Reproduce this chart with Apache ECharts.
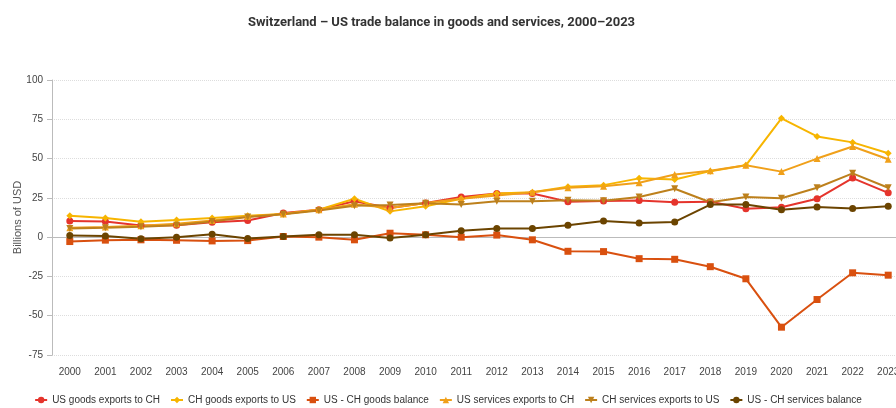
<!DOCTYPE html>
<html>
<head>
<meta charset="utf-8">
<script src="https://cdn.jsdelivr.net/npm/echarts@6/dist/echarts.min.js"></script>
<style>
  html, body { margin: 0; padding: 0; background: #fff; }
  #chart { width: 896px; height: 408px; }
</style>
</head>
<body>
<div id="chart"></div>
<script>
var years = ['2000', '2001', '2002', '2003', '2004', '2005', '2006', '2007', '2008', '2009', '2010', '2011',
    '2012', '2013', '2014', '2015', '2016', '2017', '2018', '2019', '2020', '2021', '2022', '2023'];

var usGoodsExports = [10.2, 10, 7.4, 7.6, 9.4, 10.6, 15.3, 17.5, 22.8, 18.6, 21.8, 25.6,
    27.8, 27.8, 22.6, 23, 23.3, 22.2, 22.6, 18.1, 19, 24.4, 37.6, 28.2];
var chGoodsExports = [13.6, 12.2, 9.8, 10.9, 12.2, 13.6, 14.7, 17.5, 24.4, 16.4, 19.6, 24.4,
    27.8, 28.6, 32, 33.1, 37.4, 36.7, 42, 45.7, 75.6, 64.1, 60.3, 53.4];
var goodsBalance = [-2.8, -1.9, -1.7, -2, -2.4, -2.2, 0.4, 0, -1.7, 2.5, 1.5, 0,
    1.3, -1.7, -9, -9.2, -13.7, -14.1, -18.8, -26.5, -57.3, -39.7, -22.7, -24.2];
var usServicesExports = [6, 6.5, 7.2, 8.5, 10.6, 13.2, 14.7, 17.5, 21, 18.5, 21.8, 24.4,
    26.5, 28.6, 31.4, 32.4, 34.6, 39.9, 42.3, 45.7, 41.7, 50, 57.7, 49.6];
var chServicesExports = [5.5, 6, 6.6, 7.6, 10, 12.8, 14.5, 17, 20, 20.5, 21.5, 20.7,
    22.8, 22.8, 23.5, 23.1, 25.6, 30.8, 22.2, 25.6, 24.7, 31.4, 40.6, 31.4];
var servicesBalance = [1, 0.8, -1.1, 0, 1.9, -0.9, 0.4, 1.5, 1.5, -0.6, 1.5, 4,
    5.5, 5.5, 7.6, 10.2, 9, 9.7, 20.7, 20.7, 17.5, 19.2, 18.3, 19.6];

var chart = echarts.init(document.getElementById('chart'));

function line(name, data, color, symbol, rotate) {
    return {
        name: name,
        type: 'line',
        data: data,
        symbol: symbol,
        symbolSize: 7,
        symbolRotate: rotate || 0,
        lineStyle: { width: 2, color: color },
        itemStyle: { color: color },
        emphasis: { disabled: true }
    };
}

var option = {
    animation: false,
    title: {
        text: 'Switzerland – US trade balance in goods and services, 2000–2023',
        left: 243,
        top: 11,
        textStyle: { fontFamily: 'Roboto', fontSize: 13, fontWeight: 'bold', color: '#333' }
    },
    legend: {
        top: 390,
        left: 'center',
        width: 896,
        itemWidth: 12,
        itemHeight: 8,
        itemGap: 10,
        textStyle: { fontFamily: 'Liberation Sans', fontSize: 10, color: '#333' }
    },
    grid: {
        left: 52,
        right: -10,
        top: 80,
        bottom: 53,
        outerBoundsMode: 'none'
    },
    xAxis: {
        type: 'category',
        data: years,
        boundaryGap: true,
        axisLine: { lineStyle: { color: '#bbb' } },
        axisTick: { show: false },
        axisLabel: { fontFamily: 'Liberation Sans', fontSize: 10, color: '#444', margin: 12 }
    },
    yAxis: {
        type: 'value',
        min: -75,
        max: 100,
        interval: 25,
        name: 'Billions of USD',
        nameLocation: 'middle',
        nameGap: 29,
        nameMoveOverlap: false,
        nameTextStyle: { fontFamily: 'Liberation Sans', fontSize: 11, color: '#555' },
        axisLine: { show: true, lineStyle: { color: '#bbb' } },
        axisTick: { show: true, length: 5, lineStyle: { color: '#bbb' } },
        axisLabel: { fontFamily: 'Liberation Sans', fontSize: 10, color: '#444', margin: 9 },
        splitLine: { lineStyle: { color: '#ddd', type: 'dotted' } }
    },
    series: [
        line('US goods exports to CH', usGoodsExports, '#e5342c', 'circle'),
        line('CH goods exports to US', chGoodsExports, '#f7b500', 'diamond'),
        line('US - CH goods balance', goodsBalance, '#d9500f', 'rect'),
        line('US services exports to CH', usServicesExports, '#f0a01a', 'triangle'),
        line('CH services exports to US', chServicesExports, '#bd801c', 'triangle', 180),
        line('US - CH services balance', servicesBalance, '#6b4400', 'circle')
    ]
};

option && chart.setOption(option);
window.addEventListener('resize', chart.resize);
</script>
</body>
</html>
